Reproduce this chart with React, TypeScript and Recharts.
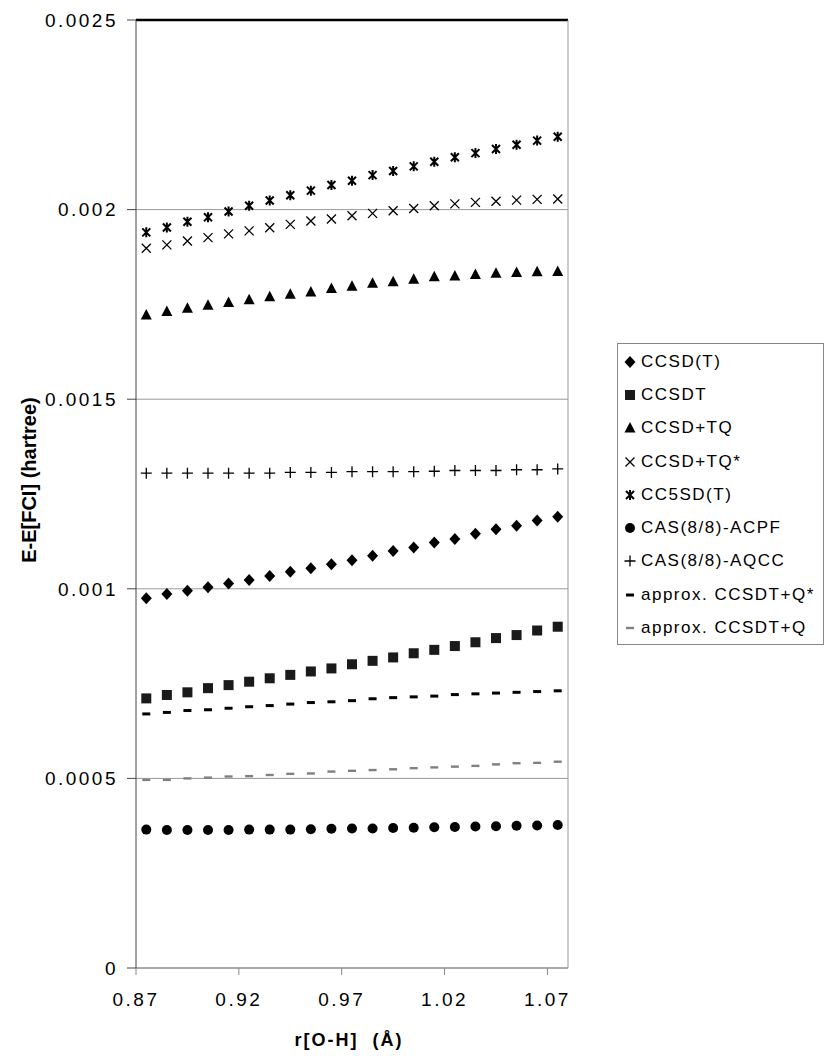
import React from "react";
import { ScatterChart, Scatter, XAxis, YAxis, CartesianGrid, ReferenceLine } from "recharts";

// r[O-H] in Angstrom
const R_OH = [
  0.875, 0.885, 0.895, 0.905, 0.915, 0.925, 0.935, 0.945, 0.955, 0.965, 0.975,
  0.985, 0.995, 1.005, 1.015, 1.025, 1.035, 1.045, 1.055, 1.065, 1.075,
];

// E - E[FCI] in hartree
const CCSD_T = [
  0.000975, 0.000986, 0.000995, 0.001004, 0.001014, 0.001023, 0.001034, 0.001045, 0.001054, 0.001065, 0.001075,
  0.001087, 0.0011, 0.001109, 0.001122, 0.001131, 0.001145, 0.001157, 0.001166, 0.00118, 0.00119,
];
const CCSDT = [
  0.000711, 0.00072, 0.000727, 0.000738, 0.000746, 0.000755, 0.000764, 0.000773, 0.000782, 0.00079, 0.000801,
  0.00081, 0.000819, 0.00083, 0.000839, 0.000849, 0.000859, 0.00087, 0.000878, 0.00089, 0.0009,
];
const CCSD_TQ = [
  0.001722, 0.001731, 0.00174, 0.001748, 0.001755, 0.001762, 0.00177, 0.001777, 0.001783, 0.001792, 0.001798,
  0.001806, 0.00181, 0.001816, 0.001823, 0.001825, 0.001829, 0.001832, 0.001834, 0.001836, 0.001837,
];
const CCSD_TQ_STAR = [
  0.001898, 0.001907, 0.001917, 0.001926, 0.001936, 0.001944, 0.001952, 0.001961, 0.00197, 0.001975, 0.001984,
  0.00199, 0.001997, 0.002003, 0.00201, 0.002015, 0.002019, 0.002022, 0.002025, 0.002027, 0.002028,
];
const CC5SD_T = [
  0.00194, 0.001953, 0.001968, 0.00198, 0.001995, 0.00201, 0.002024, 0.002038, 0.00205, 0.002065, 0.002076,
  0.002091, 0.002102, 0.002114, 0.002126, 0.002138, 0.002149, 0.00216, 0.002171, 0.002182, 0.002192,
];
const CAS_ACPF = [
  0.000365, 0.000364, 0.000364, 0.000364, 0.000364, 0.000365, 0.000365, 0.000365, 0.000366, 0.000367, 0.000368,
  0.000368, 0.000369, 0.00037, 0.000371, 0.000372, 0.000373, 0.000374, 0.000375, 0.000376, 0.000377,
];
const CAS_AQCC = [
  0.001305, 0.001305, 0.001305, 0.001305, 0.001305, 0.001305, 0.001305, 0.001307, 0.001307, 0.001307, 0.001309,
  0.001309, 0.001309, 0.001309, 0.00131, 0.001312, 0.001312, 0.001312, 0.001314, 0.001314, 0.001316,
];
const APPROX_Q_STAR = [
  0.00067, 0.000674, 0.000679, 0.000681, 0.000685, 0.000689, 0.000692, 0.000696, 0.0007, 0.000702, 0.000705,
  0.00071, 0.000713, 0.000715, 0.000717, 0.000721, 0.000723, 0.000725, 0.000727, 0.000729, 0.000731,
];
const APPROX_Q = [
  0.000496, 0.000496, 0.0005, 0.000502, 0.000505, 0.000506, 0.000509, 0.000512, 0.000513, 0.000518, 0.00052,
  0.000522, 0.000524, 0.000527, 0.000529, 0.000531, 0.000533, 0.000537, 0.00054, 0.000541, 0.000544,
];

const X_TICKS = [0.87, 0.92, 0.97, 1.02, 1.07];
const Y_TICKS = [0, 0.0005, 0.001, 0.0015, 0.002, 0.0025];

const FONT = "'Liberation Sans', Arial, Helvetica, sans-serif";

// marker glyphs, drawn around (cx, cy)
const Diamond = ({ cx, cy }: any) => (
  <polygon points={`${cx},${cy - 6} ${cx + 5.5},${cy} ${cx},${cy + 6} ${cx - 5.5},${cy}`} fill="#000" />
);
const Square = ({ cx, cy }: any) => <rect x={cx - 5} y={cy - 5} width={10} height={10} fill="#1a1a1a" />;
const Triangle = ({ cx, cy }: any) => (
  <polygon points={`${cx},${cy - 6} ${cx + 5.5},${cy + 4.5} ${cx - 5.5},${cy + 4.5}`} fill="#000" />
);
const Cross = ({ cx, cy }: any) => (
  <path d={`M${cx - 4.5},${cy - 4.5}L${cx + 4.5},${cy + 4.5}M${cx + 4.5},${cy - 4.5}L${cx - 4.5},${cy + 4.5}`} stroke="#000" strokeWidth={1.3} />
);
const Star = ({ cx, cy }: any) => (
  <path
    d={`M${cx - 4},${cy - 4}L${cx + 4},${cy + 4}M${cx + 4},${cy - 4}L${cx - 4},${cy + 4}M${cx},${cy - 5}L${cx},${cy + 5}`}
    stroke="#000"
    strokeWidth={2}
  />
);
const Circle = ({ cx, cy }: any) => <circle cx={cx} cy={cy} r={5} fill="#000" />;
const Plus = ({ cx, cy }: any) => (
  <path d={`M${cx - 5.5},${cy}L${cx + 5.5},${cy}M${cx},${cy - 5.5}L${cx},${cy + 5.5}`} stroke="#000" strokeWidth={1.3} />
);
const Dash = ({ cx, cy }: any) => <rect x={cx - 4} y={cy - 1.5} width={8} height={3} fill="#000" />;
const GrayDash = ({ cx, cy }: any) => <rect x={cx - 4} y={cy - 1.2} width={8} height={2.4} fill="#808080" />;

const SERIES = [
  { name: "CCSD(T)", values: CCSD_T, shape: Diamond },
  { name: "CCSDT", values: CCSDT, shape: Square },
  { name: "CCSD+TQ", values: CCSD_TQ, shape: Triangle },
  { name: "CCSD+TQ*", values: CCSD_TQ_STAR, shape: Cross },
  { name: "CC5SD(T)", values: CC5SD_T, shape: Star },
  { name: "CAS(8/8)-ACPF", values: CAS_ACPF, shape: Circle },
  { name: "CAS(8/8)-AQCC", values: CAS_AQCC, shape: Plus },
  { name: "approx. CCSDT+Q*", values: APPROX_Q_STAR, shape: Dash },
  { name: "approx. CCSDT+Q", values: APPROX_Q, shape: GrayDash },
];

const toPoints = (values: number[]) => R_OH.map((x, i) => ({ x, y: values[i] }));

export default function App() {
  return (
    <div style={{ position: "absolute", left: 0, top: 0, width: 825, height: 1056, background: "#fff", fontFamily: FONT }}>
      <ScatterChart width={825} height={1056} margin={{ top: 20, right: 257, bottom: 38, left: 36 }}>
        <CartesianGrid vertical={false} stroke="#999" strokeWidth={1} />
        <XAxis
          type="number"
          dataKey="x"
          domain={[0.87, 1.08]}
          ticks={X_TICKS}
          tickFormatter={(v: number) => v.toFixed(2)}
          height={50}
          stroke="#888"
          tickSize={7}
          tickMargin={18}
          tick={{ fontSize: 19, fill: "#000", fontFamily: FONT, letterSpacing: 2.5 }}
          allowDataOverflow
        />
        <YAxis
          type="number"
          dataKey="y"
          domain={[0, 0.0025]}
          ticks={Y_TICKS}
          tickFormatter={(v: number) => String(v)}
          width={100}
          stroke="#444"
          tickSize={9}
          tickMargin={9}
          tick={{ fontSize: 19, fill: "#000", fontFamily: FONT, letterSpacing: 2.5 }}
          allowDataOverflow
        />
        <ReferenceLine y={0.0025} stroke="#000" strokeWidth={2.5} />
        <ReferenceLine x={1.08} stroke="#999" strokeWidth={1} />
        {SERIES.map((s) => (
          <Scatter key={s.name} name={s.name} data={toPoints(s.values)} shape={s.shape} isAnimationActive={false} />
        ))}
      </ScatterChart>

      {/* y axis title */}
      <div
        style={{
          position: "absolute",
          left: 29,
          top: 480,
          transform: "translate(-50%, -50%) rotate(-90deg)",
          whiteSpace: "nowrap",
          fontSize: 20,
          fontWeight: "bold",
          color: "#000",
        }}
      >
        E-E[FCI] (hartree)
      </div>

      {/* x axis title */}
      <div
        style={{
          position: "absolute",
          left: 349,
          top: 1040,
          transform: "translate(-50%, -50%)",
          whiteSpace: "pre",
          fontSize: 18,
          fontWeight: "bold",
          letterSpacing: 2,
          color: "#000",
        }}
      >
        {"r[O-H]  (Å)"}
      </div>

      {/* legend */}
      <div
        style={{
          position: "absolute",
          left: 617,
          top: 343,
          width: 207,
          height: 302,
          border: "1px solid #888",
          boxSizing: "border-box",
          paddingTop: 1,
        }}
      >
        {SERIES.map((s) => {
          const Shape = s.shape;
          return (
            <div key={s.name} style={{ display: "flex", alignItems: "center", height: 33.3, paddingLeft: 4 }}>
              <svg width={16} height={16} style={{ flex: "none" }}>
                <Shape cx={8} cy={8} />
              </svg>
              <span style={{ fontSize: 17, letterSpacing: 1.5, marginLeft: 3, whiteSpace: "nowrap", color: "#000" }}>{s.name}</span>
            </div>
          );
        })}
      </div>
    </div>
  );
}
